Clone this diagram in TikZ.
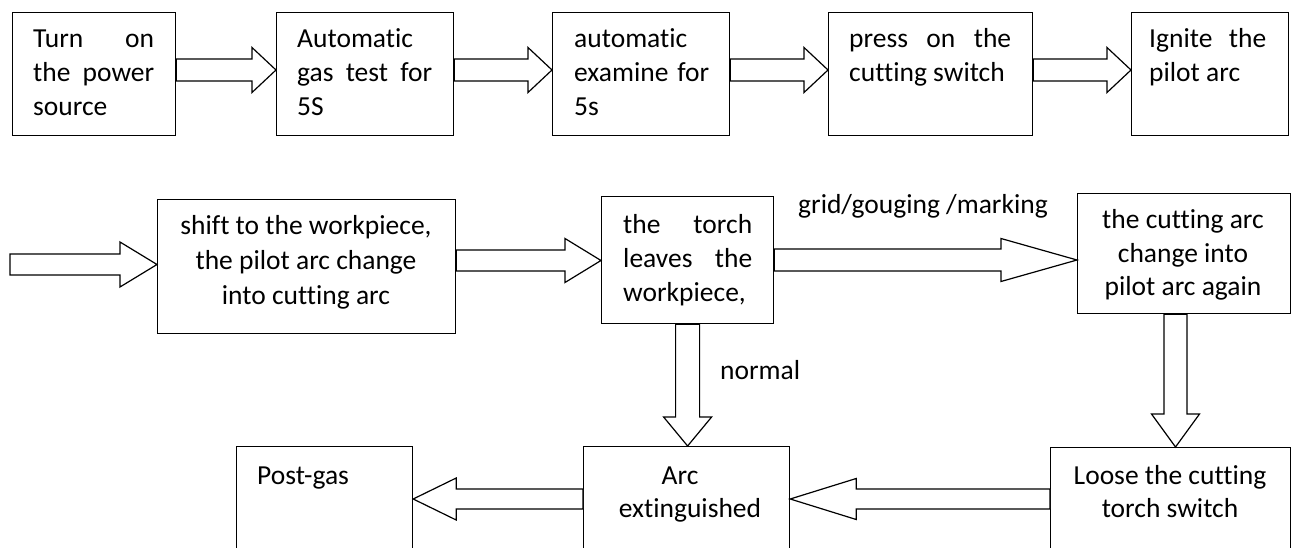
\documentclass[tikz,border=0pt]{standalone}
\usepackage{fontspec}
\setmainfont{Carlito}[Ligatures=NoCommon]
\usetikzlibrary{calc}
\newcommand\txtblock[2]{\vtop{\baselineskip=#1\lineskiplimit=-100pt\relax #2}}
\newcommand\mkJ[2]{\hbox to #1{#2}}
\newcommand\mkL[1]{\hbox{#1}}
\newcommand\mkC[2]{\hbox to #1{\hfil #2\hfil}}
\newcommand\harrow[5]{\draw[barrow] ($#1+(0,{-(#3)})$) -- ($#2+({-(#5)},{-(#3)})$) -- ($#2+({-(#5)},{-(#4)})$) -- #2 -- ($#2+({-(#5)},#4)$) -- ($#2+({-(#5)},#3)$) -- ($#1+(0,#3)$) -- cycle;}
\newcommand\varrow[5]{\draw[barrow] ($#1+({-(#3)},0)$) -- ($#2+({-(#3)},{-(#5)})$) -- ($#2+({-(#4)},{-(#5)})$) -- #2 -- ($#2+(#4,{-(#5)})$) -- ($#2+(#3,{-(#5)})$) -- ($#1+(#3,0)$) -- cycle;}
\begin{document}
\begin{tikzpicture}[x=1pt,y=-1pt,
  box/.style={draw, line width=1.2pt, inner sep=0pt, anchor=north west},
  txt/.style={inner sep=0pt, font=\fontsize{27.5pt}{33.5pt}\selectfont},
  barrow/.style={draw, line width=1.2pt, line join=miter, fill=white}]
\useasboundingbox (0,0) rectangle (1296,548);
\clip (0,0) rectangle (1296,548);
% top row boxes
\node[box, minimum width=163, minimum height=123] (b1) at (12,12) {};
\node[box, minimum width=177, minimum height=123] (b2) at (276,12) {};
\node[box, minimum width=177, minimum height=123] (b3) at (552,12) {};
\node[box, minimum width=204, minimum height=123] (b4) at (828,12) {};
\node[box, minimum width=157, minimum height=123] (b5) at (1131,12) {};
% second row
\node[box, minimum width=298, minimum height=134] (b6) at (157,199) {};
\node[box, minimum width=172, minimum height=127] (b7) at (601,196) {};
\node[box, minimum width=213, minimum height=120] (b8) at (1077,193) {};
% bottom row
\node[box, minimum width=240, minimum height=120] (b9) at (1050,447) {};
\node[box, minimum width=206, minimum height=120] (b10) at (583,446) {};
\node[box, minimum width=176, minimum height=120] (bp) at (236,446) {};
% texts
\node[txt, anchor=base west] (t1) at (33,48) {\txtblock{34pt}{\mkJ{121pt}{Turn on}\mkJ{121pt}{the power}\mkL{source}}};
\node[txt, anchor=base west] (t2) at (297,48) {\txtblock{34pt}{\mkL{Automatic}\mkJ{135pt}{gas test for}\mkL{5S}}};
\node[txt, anchor=base west] (t3) at (574,48) {\txtblock{34pt}{\mkL{automatic}\mkJ{135pt}{examine for}\mkL{5s}}};
\node[txt, anchor=base west] (t4) at (849,48) {\txtblock{34pt}{\mkJ{162pt}{press on the}\mkL{cutting switch}}};
\node[txt, anchor=base west] (t5) at (1149,48) {\txtblock{34pt}{\mkJ{117pt}{Ignite the}\mkL{pilot arc}}};
\node[txt, anchor=base] (t6) at (306,235) {\txtblock{35pt}{\mkC{290pt}{shift to the workpiece,}\mkC{290pt}{the pilot arc change}\mkC{290pt}{into cutting arc}}};
\node[txt, anchor=base west] (t7) at (623,234) {\txtblock{33.5pt}{\mkJ{129pt}{the torch}\mkJ{129pt}{leaves the}\mkL{workpiece,}}};
\node[txt, anchor=base] (t8) at (1183,229) {\txtblock{33.5pt}{\mkC{205pt}{the cutting arc}\mkC{205pt}{change into}\mkC{205pt}{pilot arc again}}};
\node[txt, anchor=base] (t9) at (1170,484) {\txtblock{33pt}{\mkC{230pt}{Loose the cutting}\mkC{230pt}{torch switch}}};
\node[txt, anchor=base] (t10) at (686,484) {\txtblock{33pt}{\hbox to 200pt{\hfil Arc\hfil\hskip12pt}\hbox to 200pt{\hskip8pt\hfil extinguished\hfil}}};
\node[txt, anchor=base west] (tp) at (257,484) {Post-gas};
\node[txt, anchor=base west] (lg) at (798,214) {grid/gouging /marking};
\node[txt, anchor=base west] (ln) at (720,379) {normal};
% arrow axes
\coordinate (ya) at (0,70);
\coordinate (s0) at (10,264.5);
\coordinate (y67) at (0,260.5);
\coordinate (y78) at (0,260);
\coordinate (x89) at (1175.5,0);
\coordinate (y910) at (0,499);
% top row arrows
\harrow{(b1.east |- ya)}{(b2.west |- ya)}{11}{22.5}{24}
\harrow{(b2.east |- ya)}{(b3.west |- ya)}{11}{22.5}{24}
\harrow{(b3.east |- ya)}{(b4.west |- ya)}{11}{22.5}{24}
\harrow{(b4.east |- ya)}{(b5.west |- ya)}{11}{22.5}{24}
% second row arrows
\harrow{(s0)}{(b6.west |- s0)}{10.5}{22.5}{37}
\harrow{(b6.east |- y67)}{(b7.west |- y67)}{10.5}{22}{36}
\harrow{(b7.east |- y78)}{(b8.west |- y78)}{11}{21.5}{76}
% vertical arrows
\varrow{(b7.south)}{(b10.north -| b7.south)}{12}{24}{29}
\varrow{(b8.south -| x89)}{(b9.north -| x89)}{11.5}{24}{33}
% bottom row arrows
\harrow{(b9.west |- y910)}{(b10.east |- y910)}{10}{20.5}{-66}
\harrow{(b10.west |- y910)}{(bp.east |- y910)}{10}{21}{-43}
\end{tikzpicture}
\end{document}
